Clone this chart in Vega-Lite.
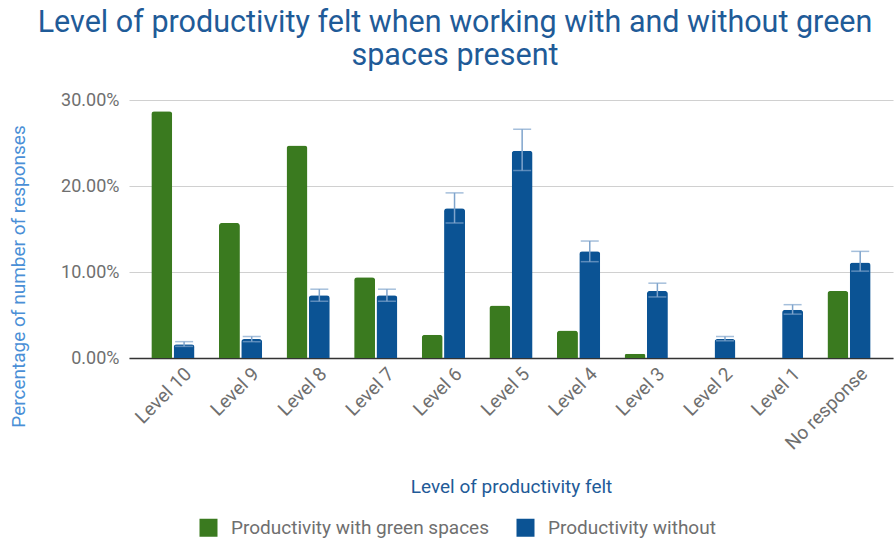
{
  "$schema": "https://vega.github.io/schema/vega-lite/v6.json",
  "width": 764,
  "height": 258,
  "autosize": {"type": "none"},
  "padding": {"left": 129, "top": 100, "right": 3, "bottom": 181},
  "background": "white",
  "title": {
    "text": ["Level of productivity felt when working with and without green", "spaces present"],
    "font": "Roboto",
    "fontSize": 30.5,
    "fontWeight": "normal",
    "color": "#1f5b98",
    "lineHeight": 33,
    "anchor": "middle",
    "dx": -56,
    "offset": 20
  },
  "config": {
    "view": {"stroke": null},
    "font": "Roboto"
  },
  "data": {
    "values": [
      {"level": "Level 10", "series": "Productivity with green spaces", "value": 28.7},
      {"level": "Level 10", "series": "Productivity without", "value": 1.6, "lo": 1.35, "hi": 1.9},
      {"level": "Level 9", "series": "Productivity with green spaces", "value": 15.7},
      {"level": "Level 9", "series": "Productivity without", "value": 2.2, "lo": 1.9, "hi": 2.5},
      {"level": "Level 8", "series": "Productivity with green spaces", "value": 24.7},
      {"level": "Level 8", "series": "Productivity without", "value": 7.3, "lo": 6.6, "hi": 8.0},
      {"level": "Level 7", "series": "Productivity with green spaces", "value": 9.4},
      {"level": "Level 7", "series": "Productivity without", "value": 7.3, "lo": 6.6, "hi": 8.0},
      {"level": "Level 6", "series": "Productivity with green spaces", "value": 2.7},
      {"level": "Level 6", "series": "Productivity without", "value": 17.4, "lo": 15.7, "hi": 19.2},
      {"level": "Level 5", "series": "Productivity with green spaces", "value": 6.1},
      {"level": "Level 5", "series": "Productivity without", "value": 24.1, "lo": 21.8, "hi": 26.6},
      {"level": "Level 4", "series": "Productivity with green spaces", "value": 3.2},
      {"level": "Level 4", "series": "Productivity without", "value": 12.4, "lo": 11.2, "hi": 13.6},
      {"level": "Level 3", "series": "Productivity with green spaces", "value": 0.5},
      {"level": "Level 3", "series": "Productivity without", "value": 7.8, "lo": 7.1, "hi": 8.7},
      {"level": "Level 2", "series": "Productivity with green spaces", "value": 0},
      {"level": "Level 2", "series": "Productivity without", "value": 2.2, "lo": 2.0, "hi": 2.5},
      {"level": "Level 1", "series": "Productivity with green spaces", "value": 0},
      {"level": "Level 1", "series": "Productivity without", "value": 5.6, "lo": 5.1, "hi": 6.2},
      {"level": "No response", "series": "Productivity with green spaces", "value": 7.8},
      {"level": "No response", "series": "Productivity without", "value": 11.1, "lo": 10.1, "hi": 12.4}
    ]
  },
  "encoding": {
    "x": {
      "field": "level",
      "type": "nominal",
      "sort": null,
      "scale": {"paddingInner": 0.36, "paddingOuter": 0.33},
      "axis": {
        "title": "Level of productivity felt",
        "titleFont": "Roboto",
        "titleFontSize": 19,
        "titleFontWeight": "normal",
        "titleColor": "#1f5b98",
        "titlePadding": 24,
        "labelAngle": -45,
        "labelFont": "Roboto",
        "labelFontSize": 19,
        "labelColor": "#6f6f6f",
        "labelPadding": 6,
        "labelOffset": 9,
        "labelLimit": 0,
        "ticks": false,
        "domainColor": "#333333",
        "domainWidth": 1.5
      }
    },
    "xOffset": {
      "field": "series",
      "type": "nominal",
      "scale": {"domain": ["Productivity with green spaces", "Productivity without"], "paddingInner": 0.06}
    }
  },
  "layer": [
    {
      "mark": {"type": "bar", "cornerRadiusTopLeft": 3, "cornerRadiusTopRight": 3},
      "encoding": {
        "y": {
          "field": "value",
          "type": "quantitative",
          "scale": {"domain": [0, 30], "nice": false},
          "axis": {
            "title": "Percentage of number of responses",
            "titleFont": "Roboto",
            "titleFontSize": 19,
            "titleFontWeight": "normal",
            "titleColor": "#4a8fd6",
            "titleX": -111,
            "titleY": 176,
            "titleBaseline": "middle",
            "titleAngle": -90,
            "titleAlign": "center",
            "values": [0, 10, 20, 30],
            "labelExpr": "format(datum.value, '.2f') + '%'",
            "labelFont": "Roboto",
            "labelFontSize": 18,
            "labelColor": "#6f6f6f",
            "labelPadding": 10,
            "ticks": false,
            "domain": false,
            "gridColor": "#d0d0d0",
            "gridWidth": 1.2
          }
        },
        "color": {
          "field": "series",
          "type": "nominal",
          "scale": {"domain": ["Productivity with green spaces", "Productivity without"], "range": ["#3a7a1f", "#0b5394"]},
          "legend": {
            "title": null,
            "orient": "none",
            "direction": "horizontal",
            "legendX": 70,
            "legendY": 418,
            "symbolType": "square",
            "symbolSize": 324,
            "symbolStrokeWidth": 0,
            "labelFont": "Roboto",
            "labelFontSize": 19,
            "labelColor": "#6f6f6f",
            "labelOffset": 13,
            "labelLimit": 0,
            "columnPadding": 26
          }
        }
      }
    },
    {
      "transform": [{"filter": "isValid(datum.hi)"}],
      "mark": {"type": "rule", "color": "#7fa4cc", "strokeWidth": 1.5},
      "encoding": {
        "y": {"field": "lo", "type": "quantitative"},
        "y2": {"field": "hi"}
      }
    },
    {
      "transform": [{"filter": "isValid(datum.hi)"}],
      "mark": {"type": "tick", "color": "#7fa4cc", "thickness": 1.5, "size": 18},
      "encoding": {
        "y": {"field": "hi", "type": "quantitative"}
      }
    },
    {
      "transform": [{"filter": "isValid(datum.hi)"}],
      "mark": {"type": "tick", "color": "#7fa4cc", "thickness": 1.5, "size": 18},
      "encoding": {
        "y": {"field": "lo", "type": "quantitative"}
      }
    }
  ]
}
